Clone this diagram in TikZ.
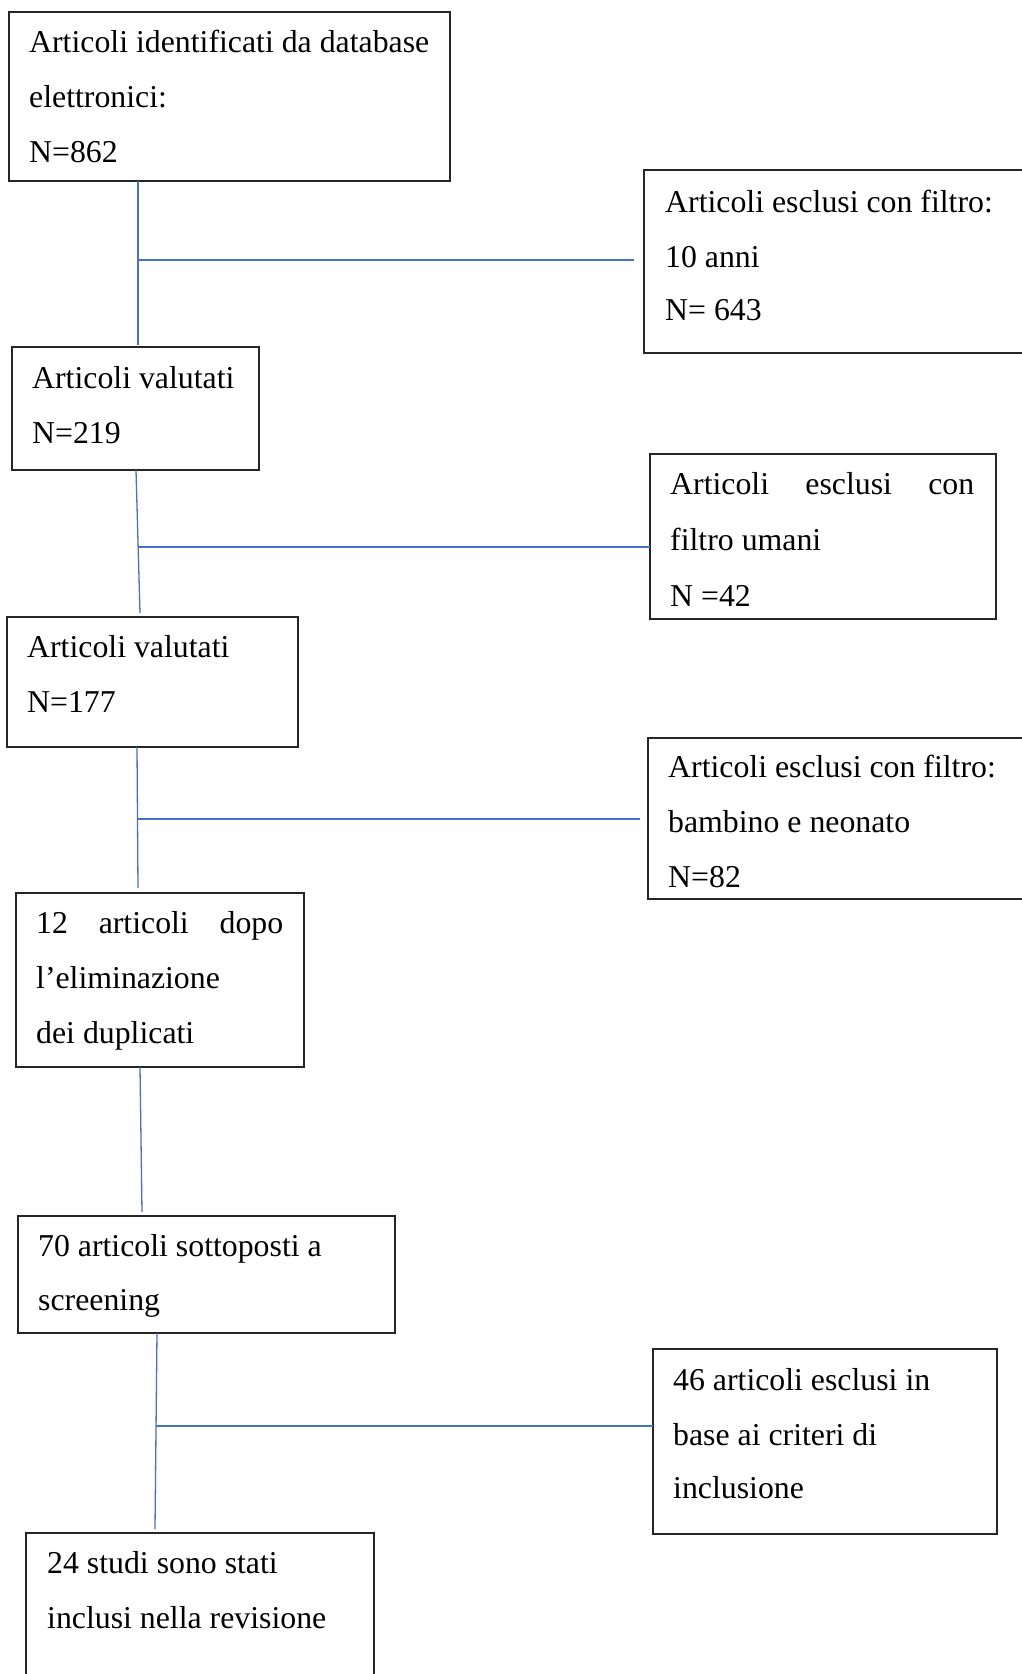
\documentclass[tikz,border=0pt]{standalone}
\usepackage{fontspec}
\setmainfont{Liberation Serif}
\newcommand\mysize{\fontsize{31.8}{38}\selectfont}
\definecolor{linec}{HTML}{4472C4}
\definecolor{boxc}{HTML}{262626}
\begin{document}
\begin{tikzpicture}[x=1pt,y=-1pt,
  box/.style={draw=boxc, line width=1.3pt, inner sep=0pt, outer sep=0pt, anchor=north west},
  conn/.style={draw=linec, line width=1.3pt},
  txt/.style={anchor=base west, inner sep=0pt, font=\mysize}]
\useasboundingbox (0,0) rectangle (1022,1674);
\clip (0,0) rectangle (1022,1674);
\fill[white] (0,0) rectangle (1022,1674);
% boxes
\node[box, minimum width=441pt, minimum height=169pt] (b1) at (9,12) {};
\node[box, minimum width=390pt, minimum height=183pt] (b2) at (644,170) {};
\node[box, minimum width=247pt, minimum height=123pt] (b3) at (12,347) {};
\node[box, minimum width=346pt, minimum height=165pt] (b5) at (650,454) {};
\node[box, minimum width=291pt, minimum height=130pt] (b4) at (7,617) {};
\node[box, minimum width=390pt, minimum height=161pt] (b6) at (648,738) {};
\node[box, minimum width=288pt, minimum height=174pt] (b7) at (16,893) {};
\node[box, minimum width=377pt, minimum height=117pt] (b8) at (18,1216) {};
\node[box, minimum width=344pt, minimum height=185pt] (b9) at (653,1349) {};
\node[box, minimum width=348pt, minimum height=160pt] (b10) at (26,1533) {};
% texts
\node[txt] (t1a) at (29,52) {Articoli identificati da database};
\node[txt] (t1b) at (29,107) {elettronici:};
\node[txt] (t1c) at (29,162) {N=862};
\node[txt] (t2a) at (665,212) {Articoli esclusi con filtro:};
\node[txt] (t2b) at (665,267) {10 anni};
\node[txt] (t2c) at (665,320) {N= 643};
\node[txt] (t3a) at (32,388) {Articoli valutati};
\node[txt] (t3b) at (32,443) {N=219};
\node[txt] (t5a) at (670,494) {\makebox[304pt][s]{Articoli\hfill esclusi\hfill con}};
\node[txt] (t5b) at (670,550) {filtro umani};
\node[txt] (t5c) at (670,606) {N =42};
\node[txt] (t4a) at (27,657) {Articoli valutati};
\node[txt] (t4b) at (27,712) {N=177};
\node[txt] (t6a) at (668,777) {Articoli esclusi con filtro:};
\node[txt] (t6b) at (668,832) {bambino e neonato};
\node[txt] (t6c) at (668,887) {N=82};
\node[txt] (t7a) at (36,933) {\makebox[247pt][s]{12\hfill articoli\hfill dopo}};
\node[txt] (t7b) at (36,988) {l’eliminazione};
\node[txt] (t7c) at (36,1043) {dei duplicati};
\node[txt] (t8a) at (38,1256) {70 articoli sottoposti a};
\node[txt] (t8b) at (38,1310) {screening};
\node[txt] (t9a) at (673,1390) {46 articoli esclusi in};
\node[txt] (t9b) at (673,1445) {base ai criteri di};
\node[txt] (t9c) at (673,1498) {inclusione};
\node[txt] (t10a) at (47,1573) {24 studi sono stati};
\node[txt] (t10b) at (47,1628) {inclusi nella revisione};
% vertical connectors
\draw[conn] ([xshift=129pt]b1.south west) -- ([xshift=126pt,yshift=2pt]b3.north west);
\draw[conn] ([xshift=124pt]b3.south west) -- ([xshift=133pt,yshift=4pt]b4.north west);
\draw[conn] ([xshift=130pt]b4.south west) -- ([xshift=122pt,yshift=5pt]b7.north west);
\draw[conn] ([xshift=124pt]b7.south west) -- ([xshift=124pt,yshift=4pt]b8.north west);
\draw[conn] ([xshift=139pt]b8.south west) -- ([xshift=129pt,yshift=4pt]b10.north west);
% junctions and horizontal connectors
\coordinate (j1) at (138,260);
\coordinate (j2) at (139,547);
\coordinate (j3) at (138,819);
\coordinate (j4) at (156,1426);
\draw[conn, shorten >=10pt] (j1) -- (b2.west |- j1);
\draw[conn] (j2) -- (b5.west |- j2);
\draw[conn, shorten >=8pt] (j3) -- (b6.west |- j3);
\draw[conn] (j4) -- (b9.west |- j4);
\end{tikzpicture}
\end{document}
